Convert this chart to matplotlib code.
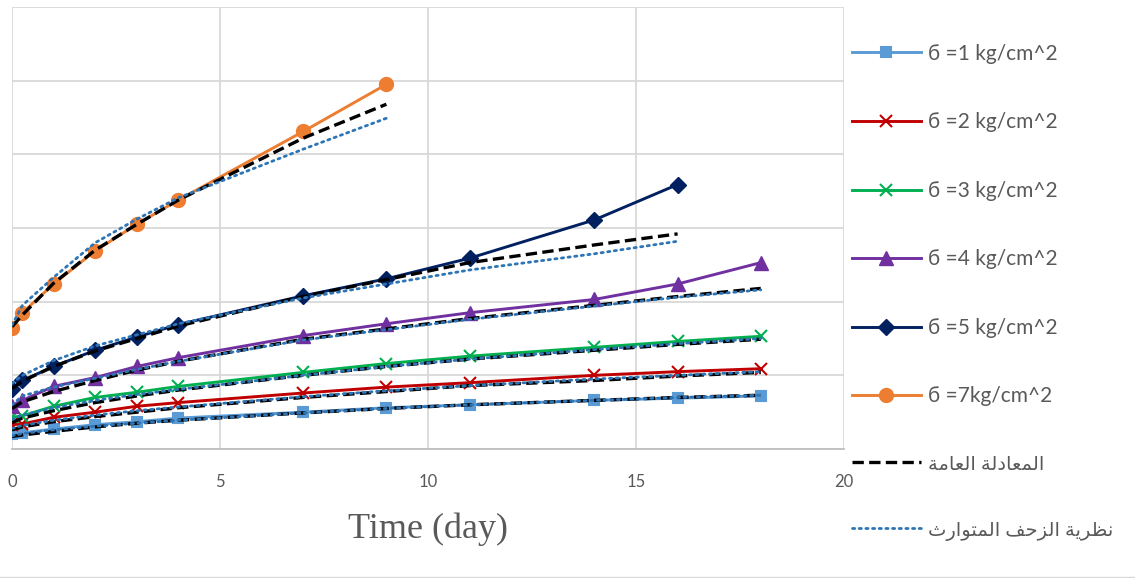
import matplotlib
matplotlib.use('Agg')
import matplotlib.pyplot as plt
from matplotlib.lines import Line2D

# dias de leitura
t_long = [0, 0.25, 1, 2, 3, 4, 7, 9, 11, 14, 16, 18]
t_mid = t_long[:11]
t_short = t_long[:8]

# deformação medida (unidades da grelha)
s1 = [0.21, 0.22, 0.27, 0.33, 0.37, 0.42, 0.50, 0.56, 0.60, 0.66, 0.69, 0.72]
s2 = [0.33, 0.34, 0.43, 0.50, 0.58, 0.63, 0.76, 0.84, 0.90, 1.00, 1.05, 1.09]
s3 = [0.43, 0.45, 0.58, 0.70, 0.77, 0.85, 1.04, 1.16, 1.26, 1.38, 1.46, 1.53]
s4 = [0.59, 0.66, 0.85, 0.97, 1.12, 1.24, 1.54, 1.70, 1.85, 2.03, 2.24, 2.53]
s5 = [0.82, 0.93, 1.12, 1.34, 1.52, 1.69, 2.08, 2.31, 2.59, 3.11, 3.59]
s7 = [1.64, 1.85, 2.24, 2.69, 3.05, 3.38, 4.31, 4.95]

# equação geral
g1 = [0.17, 0.19, 0.24, 0.30, 0.35, 0.39, 0.49, 0.55, 0.60, 0.66, 0.70, 0.73]
g2 = [0.26, 0.30, 0.37, 0.44, 0.50, 0.56, 0.70, 0.78, 0.86, 0.93, 0.99, 1.04]
g3 = [0.36, 0.42, 0.52, 0.63, 0.72, 0.80, 1.00, 1.12, 1.22, 1.34, 1.42, 1.49]
g4 = [0.55, 0.64, 0.78, 0.93, 1.07, 1.19, 1.49, 1.63, 1.77, 1.95, 2.07, 2.18]
g5 = [0.82, 0.92, 1.12, 1.33, 1.50, 1.67, 2.07, 2.30, 2.53, 2.77, 2.92]
g7 = [1.66, 1.82, 2.25, 2.70, 3.05, 3.38, 4.22, 4.68]

# teoria da fluência hereditária
h1 = [0.18, 0.21, 0.26, 0.31, 0.35, 0.39, 0.49, 0.55, 0.60, 0.66, 0.70, 0.73]
h2 = [0.28, 0.32, 0.39, 0.46, 0.52, 0.57, 0.71, 0.79, 0.86, 0.95, 1.00, 1.05]
h3 = [0.40, 0.46, 0.56, 0.66, 0.74, 0.81, 1.00, 1.12, 1.22, 1.35, 1.43, 1.50]
h4 = [0.60, 0.72, 0.84, 0.96, 1.08, 1.19, 1.48, 1.62, 1.76, 1.94, 2.06, 2.16]
h5 = [0.89, 1.00, 1.20, 1.40, 1.55, 1.70, 2.05, 2.24, 2.43, 2.65, 2.82]
h7 = [1.68, 1.95, 2.33, 2.80, 3.12, 3.41, 4.07, 4.49]

rotulos = ['б =1 kg/cm^2', 'б =2 kg/cm^2', 'б =3 kg/cm^2',
           'б =4 kg/cm^2', 'б =5 kg/cm^2', 'б =7kg/cm^2']
txt_geral = 'المعادلة العامة'
txt_heredit = 'نظرية الزحف المتوارث'

# formas de apresentação: isolada, final, inicial, medial
FORMAS = {
    'ا': ('\uFE8D', '\uFE8E', None, None),
    'د': ('\uFEA9', '\uFEAA', None, None),
    'ر': ('\uFEAD', '\uFEAE', None, None),
    'ز': ('\uFEAF', '\uFEB0', None, None),
    'و': ('\uFEED', '\uFEEE', None, None),
    'ة': ('\uFE93', '\uFE94', None, None),
    'ل': ('\uFEDD', '\uFEDE', '\uFEDF', '\uFEE0'),
    'م': ('\uFEE1', '\uFEE2', '\uFEE3', '\uFEE4'),
    'ع': ('\uFEC9', '\uFECA', '\uFECB', '\uFECC'),
    'ن': ('\uFEE5', '\uFEE6', '\uFEE7', '\uFEE8'),
    'ظ': ('\uFEC5', '\uFEC6', '\uFEC7', '\uFEC8'),
    'ي': ('\uFEF1', '\uFEF2', '\uFEF3', '\uFEF4'),
    'ح': ('\uFEA1', '\uFEA2', '\uFEA3', '\uFEA4'),
    'ف': ('\uFED1', '\uFED2', '\uFED3', '\uFED4'),
    'ت': ('\uFE95', '\uFE96', '\uFE97', '\uFE98'),
    'ث': ('\uFE99', '\uFE9A', '\uFE9B', '\uFE9C'),
}


def arabe(s):
    out = []
    for i, ch in enumerate(s):
        if ch not in FORMAS:
            out.append(ch)
            continue
        ant = s[i - 1] if i > 0 else ''
        prox = s[i + 1] if i + 1 < len(s) else ''
        liga_ant = ant in FORMAS and FORMAS[ant][2] is not None
        liga_prox = FORMAS[ch][2] is not None and prox in FORMAS
        iso, fin, ini, med = FORMAS[ch]
        if liga_ant and liga_prox:
            out.append(med)
        elif liga_ant:
            out.append(fin)
        elif liga_prox:
            out.append(ini)
        else:
            out.append(iso)
    return ''.join(reversed(out))


CINZA = '#595959'
fig = plt.figure(figsize=(11.35, 5.78), dpi=100)
ax = fig.add_axes([12 / 1135, 129 / 578, 832 / 1135, 442 / 578])

series = [
    (t_long, s1, '#5B9BD5', 's', 7, 1.5),
    (t_long, s2, '#C00000', 'x', 9, 1.5),
    (t_long, s3, '#00B050', 'x', 9, 1.5),
    (t_long, s4, '#7030A0', '^', 10, 1),
    (t_mid, s5, '#002060', 'D', 8, 1),
    (t_short, s7, '#ED7D31', 'o', 10, 1),
]
handles = []
for t, y, cor, mk, ms, mew in series:
    h, = ax.plot(t, y, color=cor, lw=2.1, marker=mk, ms=ms, mew=mew,
                 mec=cor, mfc=cor, zorder=3)
    handles.append(h)

for t, y in [(t_long, g1), (t_long, g2), (t_long, g3), (t_long, g4),
             (t_mid, g5), (t_short, g7)]:
    hg, = ax.plot(t, y, color='black', lw=2.4, ls=(0, (3.4, 1.6)), zorder=4)

for t, y in [(t_long, h1), (t_long, h2), (t_long, h3), (t_long, h4),
             (t_mid, h5), (t_short, h7)]:
    hh, = ax.plot(t, y, color='#2E75B6', lw=2.0, ls=(0, (0.8, 1.6)),
                  dash_capstyle='round', zorder=5)

ax.set_xlim(0, 20)
ax.set_ylim(0, 6)
ax.set_xticks([0, 5, 10, 15, 20])
ax.set_yticks(range(7))
ax.set_yticklabels([])
ax.grid(True, color='#D9D9D9', lw=1.3)
ax.set_axisbelow(True)
for lado in ['top', 'right', 'left']:
    ax.spines[lado].set_visible(False)
ax.spines['bottom'].set_color('#BFBFBF')
ax.spines['bottom'].set_linewidth(1.3)
ax.tick_params(length=0, pad=18, labelsize=12, labelcolor=CINZA)
for lb in ax.get_xticklabels():
    lb.set_family(['Lato', 'DejaVu Sans'])
ax.set_xlabel('Time (day)', family='Liberation Serif', fontsize=26,
              color=CINZA, labelpad=16)

labels = rotulos + [arabe(txt_geral), arabe(txt_heredit)]
leg = fig.legend(handles + [hg, hh], labels, loc='upper left',
                 bbox_to_anchor=(833 / 1135, 1 - 25 / 578), frameon=False,
                 handlelength=3.3, handletextpad=0.34, labelspacing=2.33,
                 prop={'family': ['Lato', 'DejaVu Sans'], 'size': 15},
                 labelcolor=CINZA)
for txt in leg.get_texts()[6:]:
    txt.set_fontsize(14)

fig.add_artist(Line2D([0, 1], [1.5 / 578, 1.5 / 578], transform=fig.transFigure,
                      color='#D9D9D9', lw=1))

fig.savefig('out.png', dpi=100)
